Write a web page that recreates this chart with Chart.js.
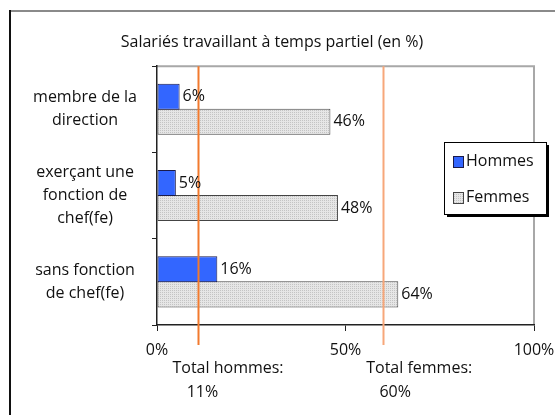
<!DOCTYPE html>
<html>
<head>
<meta charset="utf-8">
<script src="https://cdnjs.cloudflare.com/ajax/libs/Chart.js/4.4.1/chart.umd.min.js"></script>
<style>
  html, body { margin: 0; padding: 0; background: #fff; }
  #wrap { width: 555px; height: 415px; position: relative; }
</style>
</head>
<body>
<div id="wrap"><canvas id="chart"></canvas></div>
<script>
// Data
const categories = [
  ['membre de la', 'direction'],
  ['exerçant une', 'fonction de', 'chef(fe)'],
  ['sans fonction', 'de chef(fe)']
];
const seriesNames = ['Hommes', 'Femmes'];
const hommes = [6, 5, 16];
const femmes = [46, 48, 64];
const xTicks = [0, 50, 100];
const totalValues = [11, 60];
const totalLabels = ['Total hommes:', 'Total femmes:'];
const titleText = 'Salariés travaillant à temps partiel (en %)';

const FONT = "'Open Sans', sans-serif";
const FS = 16;
const BLUE = '#3366ff';
const orangeColors = ['#f27a2e', '#f7a77a'];

// dotted grey fill like the old Excel pattern
function dotPattern() {
  const c = document.createElement('canvas');
  c.width = 2; c.height = 2;
  const g = c.getContext('2d');
  g.fillStyle = '#e6e6e6'; g.fillRect(0, 0, 2, 2);
  g.fillStyle = '#c4c4c4'; g.fillRect(0, 0, 1, 1);
  return g.createPattern(c, 'repeat');
}

const canvas = document.getElementById('chart');
const ctx = canvas.getContext('2d');
const femmesFill = dotPattern();
const fills = [BLUE, femmesFill];
const borders = ['#1a1a4a', '#444444'];

const decorPlugin = {
  id: 'decor',
  beforeDraw(chart) {
    const c = chart.ctx, a = chart.chartArea;
    c.save();
    // outer frame (right and bottom run off the picture)
    c.lineWidth = 2;
    c.strokeStyle = '#8a8a8a';
    c.beginPath(); c.moveTo(9, 11); c.lineTo(560, 11); c.stroke();
    c.strokeStyle = '#111';
    c.beginPath(); c.moveTo(10, 10); c.lineTo(10, 420); c.stroke();
    // plot area border, top and right
    c.strokeStyle = '#a8a8a8';
    c.beginPath();
    c.moveTo(a.left, a.top); c.lineTo(a.right, a.top); c.lineTo(a.right, a.bottom);
    c.stroke();
    c.restore();
  },
  afterDatasetsDraw(chart) {
    const c = chart.ctx, a = chart.chartArea;
    const xs = chart.scales.x;
    c.save();
    // reference lines for the totals
    totalValues.forEach((v, i) => {
      const x = Math.round(xs.getPixelForValue(v)) + 0.5;
      c.strokeStyle = orangeColors[i];
      c.lineWidth = 2;
      c.beginPath(); c.moveTo(x, a.top); c.lineTo(x, a.bottom + 20); c.stroke();
    });
    // value labels
    c.font = FS + 'px ' + FONT;
    c.fillStyle = '#111';
    c.textAlign = 'left';
    c.textBaseline = 'middle';
    chart.data.datasets.forEach((ds, di) => {
      chart.getDatasetMeta(di).data.forEach((el, i) => {
        c.fillText(ds.data[i] + '%', el.x + 3, el.y);
      });
    });
    // total captions under the axis
    totalValues.forEach((v, i) => {
      const x = xs.getPixelForValue(v);
      c.textAlign = 'left';
      c.fillText(totalLabels[i], x - (i === 0 ? 26 : 17), 368);
      c.textAlign = 'center';
      c.fillText(v + '%', x + (i === 0 ? 4 : 12), 392);
    });
    c.restore();
  },
  afterDraw(chart) {
    // legend box with drop shadow
    const c = chart.ctx;
    const bx = 444, by = 142, bw = 102, bh = 72;
    c.save();
    c.fillStyle = '#000';
    c.fillRect(bx + 3, by + 3, bw, bh);
    c.fillStyle = '#fff';
    c.fillRect(bx, by, bw, bh);
    c.strokeStyle = '#000';
    c.lineWidth = 1;
    c.strokeRect(bx + 0.5, by + 0.5, bw, bh);
    c.font = FS + 'px ' + FONT;
    c.textBaseline = 'middle';
    c.textAlign = 'left';
    seriesNames.forEach((name, i) => {
      const cy = by + 19 + i * 36;
      c.fillStyle = fills[i];
      c.fillRect(bx + 9, cy - 5, 10, 11);
      c.strokeStyle = borders[i];
      c.strokeRect(bx + 9.5, cy - 4.5, 10, 11);
      c.fillStyle = '#111';
      c.fillText(name, bx + 22, cy);
    });
    c.restore();
  }
};

new Chart(ctx, {
  type: 'bar',
  data: {
    labels: categories,
    datasets: [
      { label: seriesNames[0], data: hommes, backgroundColor: fills[0], borderColor: borders[0], borderWidth: 1, borderSkipped: false, inflateAmount: 0 },
      { label: seriesNames[1], data: femmes, backgroundColor: fills[1], borderColor: borders[1], borderWidth: 1, borderSkipped: false, inflateAmount: 0 }
    ]
  },
  options: {
    indexAxis: 'y',
    responsive: true,
    maintainAspectRatio: false,
    animation: false,
    events: [],
    layout: { padding: { left: 10, right: 21, top: 0, bottom: 0 } },
    datasets: { bar: { categoryPercentage: 0.58, barPercentage: 1.04 } },
    plugins: {
      legend: { display: false },
      tooltip: { enabled: false },
      title: {
        display: true,
        text: titleText,
        color: '#111',
        font: { family: FONT, size: FS, weight: 'normal', lineHeight: 1.2 },
        padding: { top: 33, bottom: 14 }
      }
    },
    scales: {
      x: {
        min: 0,
        max: 100,
        afterBuildTicks: s => { s.ticks = xTicks.map(v => ({ value: v })); },
        afterFit: s => { s.height = 90; s.paddingLeft = 0; s.paddingRight = 0; },
        grid: { drawOnChartArea: false, tickLength: 6, color: '#222' },
        border: { color: '#222', width: 1.5 },
        ticks: {
          color: '#111',
          padding: 10,
          maxRotation: 0,
          font: { family: FONT, size: FS },
          callback: v => v + '%'
        }
      },
      y: {
        afterFit: s => { s.width = 147; },
        grid: { drawOnChartArea: false, tickLength: 5, color: '#222' },
        border: { color: '#222', width: 1.5 },
        ticks: {
          color: '#111',
          padding: 15,
          crossAlign: 'center',
          font: { family: FONT, size: FS, lineHeight: 1.45 }
        }
      }
    }
  },
  plugins: [decorPlugin]
});
</script>
</body>
</html>
